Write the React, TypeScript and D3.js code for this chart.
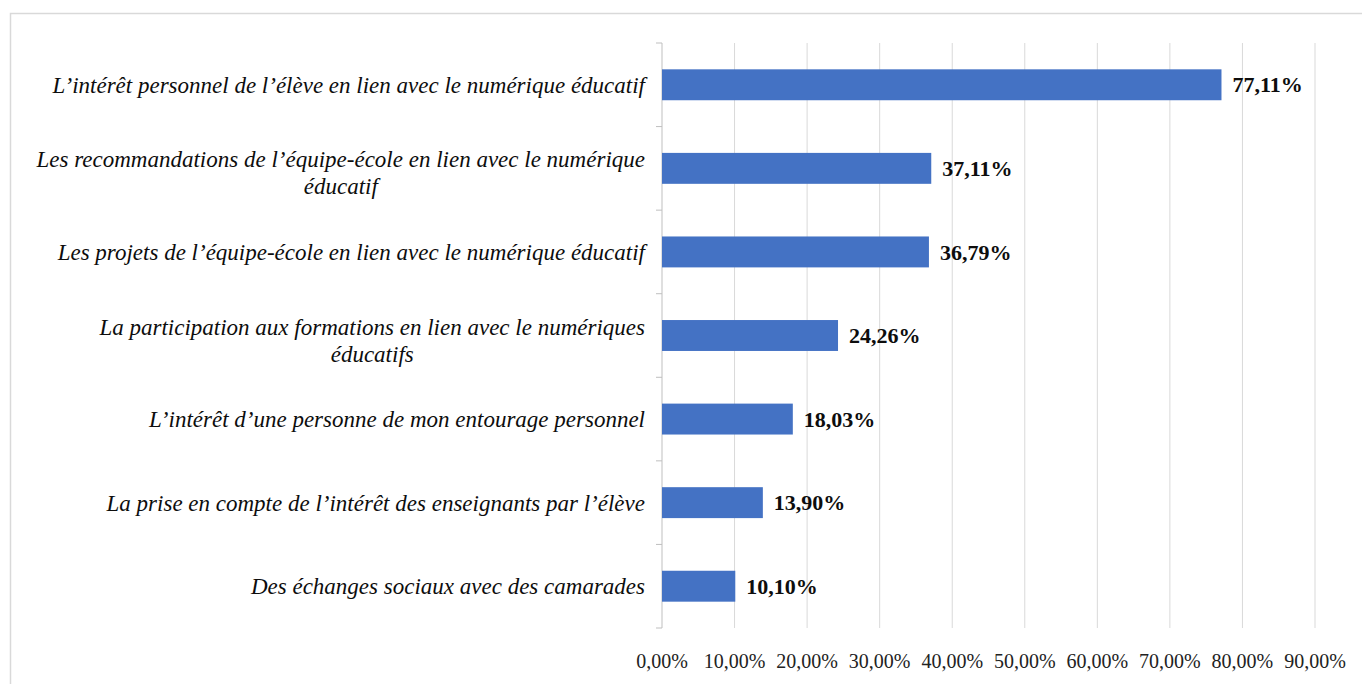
import React, { useEffect, useRef } from 'react';
import * as d3 from 'd3';

const categories: string[] = [
  "L’intérêt personnel de l’élève en lien avec le numérique éducatif",
  "Les recommandations de l’équipe-école en lien avec le numérique\néducatif",
  "Les projets de l’équipe-école en lien avec le numérique éducatif",
  "La participation aux formations en lien avec le numériques\néducatifs",
  "L’intérêt d’une personne de mon entourage personnel",
  "La prise en compte de l’intérêt des enseignants par l’élève",
  "Des échanges sociaux avec des camarades",
];

const values: number[] = [77.11, 37.11, 36.79, 24.26, 18.03, 13.9, 10.1];

const xTicks: number[] = [0, 10, 20, 30, 40, 50, 60, 70, 80, 90];

const fmt = (v: number) => v.toFixed(2).replace('.', ',') + '%';

const W = 1362;
const H = 684;

const App: React.FC = () => {
  const svgRef = useRef<SVGSVGElement>(null);

  useEffect(() => {
    if (!svgRef.current) return;
    const svg = d3.select(svgRef.current);
    svg.selectAll('*').remove();

    const left = 662;
    const right = 1315;
    const top = 43;
    const bottom = 628;

    // frame
    svg.append('rect')
      .attr('x', 10.5).attr('y', 13.5)
      .attr('width', W + 20).attr('height', H + 20)
      .attr('fill', 'none')
      .attr('stroke', '#d9d9d9')
      .attr('stroke-width', 1.5);

    const x = d3.scaleLinear().domain([0, 90]).range([left, right]);
    const y = d3.scaleBand<number>()
      .domain(d3.range(categories.length))
      .range([top, bottom])
      .paddingInner(0.63)
      .paddingOuter(0.315);
    const band = (bottom - top) / categories.length;

    // gridlines
    svg.append('g')
      .selectAll('line')
      .data(xTicks.slice(1))
      .enter().append('line')
      .attr('x1', d => x(d)).attr('x2', d => x(d))
      .attr('y1', top).attr('y2', bottom)
      .attr('stroke', '#d9d9d9')
      .attr('stroke-width', 1);

    // axis line + ticks
    svg.append('line')
      .attr('x1', left).attr('x2', left)
      .attr('y1', top).attr('y2', bottom)
      .attr('stroke', '#bfbfbf');
    svg.append('g')
      .selectAll('line')
      .data(d3.range(categories.length + 1))
      .enter().append('line')
      .attr('x1', left - 6).attr('x2', left)
      .attr('y1', i => top + i * band).attr('y2', i => top + i * band)
      .attr('stroke', '#bfbfbf');

    // bars
    svg.append('g')
      .selectAll('rect')
      .data(values)
      .enter().append('rect')
      .attr('x', left)
      .attr('y', (_, i) => y(i)!)
      .attr('width', d => x(d) - left)
      .attr('height', y.bandwidth())
      .attr('fill', '#4472c4');

    // value labels
    svg.append('g')
      .selectAll('text')
      .data(values)
      .enter().append('text')
      .attr('x', d => x(d) + 11)
      .attr('y', (_, i) => y(i)! + y.bandwidth() / 2)
      .attr('dy', '0.35em')
      .attr('font-family', '"Liberation Serif", "DejaVu Serif", serif')
      .attr('font-weight', 'bold')
      .attr('font-size', 22)
      .attr('fill', '#0d0d0d')
      .text(d => fmt(d));

    // category labels
    const labels = svg.append('g');
    categories.forEach((c, i) => {
      const lines = c.split('\n');
      const cy = y(i)! + y.bandwidth() / 2;
      const t = labels.append('text')
        .attr('font-family', '"Liberation Serif", "DejaVu Serif", serif')
        .attr('font-style', 'italic')
        .attr('font-size', 23)
        .attr('fill', '#0d0d0d');
      if (lines.length === 1) {
        t.attr('x', 645).attr('y', cy).attr('dy', '0.35em')
          .attr('text-anchor', 'end').text(c);
      } else {
        // measure first line to center the second under it
        const tmp = t.append('tspan').text(lines[0]);
        const w = (tmp.node() as SVGTSpanElement).getComputedTextLength();
        tmp.remove();
        const cx = 645 - w / 2;
        lines.forEach((ln, j) => {
          t.append('tspan')
            .attr('x', cx)
            .attr('y', cy - 9 + j * 27)
            .attr('dy', '0.35em')
            .attr('text-anchor', 'middle')
            .text(ln);
        });
      }
    });

    // x tick labels
    svg.append('g')
      .selectAll('text')
      .data(xTicks)
      .enter().append('text')
      .attr('x', d => x(d))
      .attr('y', 661)
      .attr('dy', '0.35em')
      .attr('text-anchor', 'middle')
      .attr('font-family', '"Liberation Serif", "DejaVu Serif", serif')
      .attr('font-size', 20)
      .attr('fill', '#222')
      .text(d => fmt(d));
  }, []);

  return (
    <svg
      ref={svgRef}
      width={W}
      height={H}
      style={{ position: 'absolute', left: 0, top: 0, background: '#fff' }}
    />
  );
};

export default App;
